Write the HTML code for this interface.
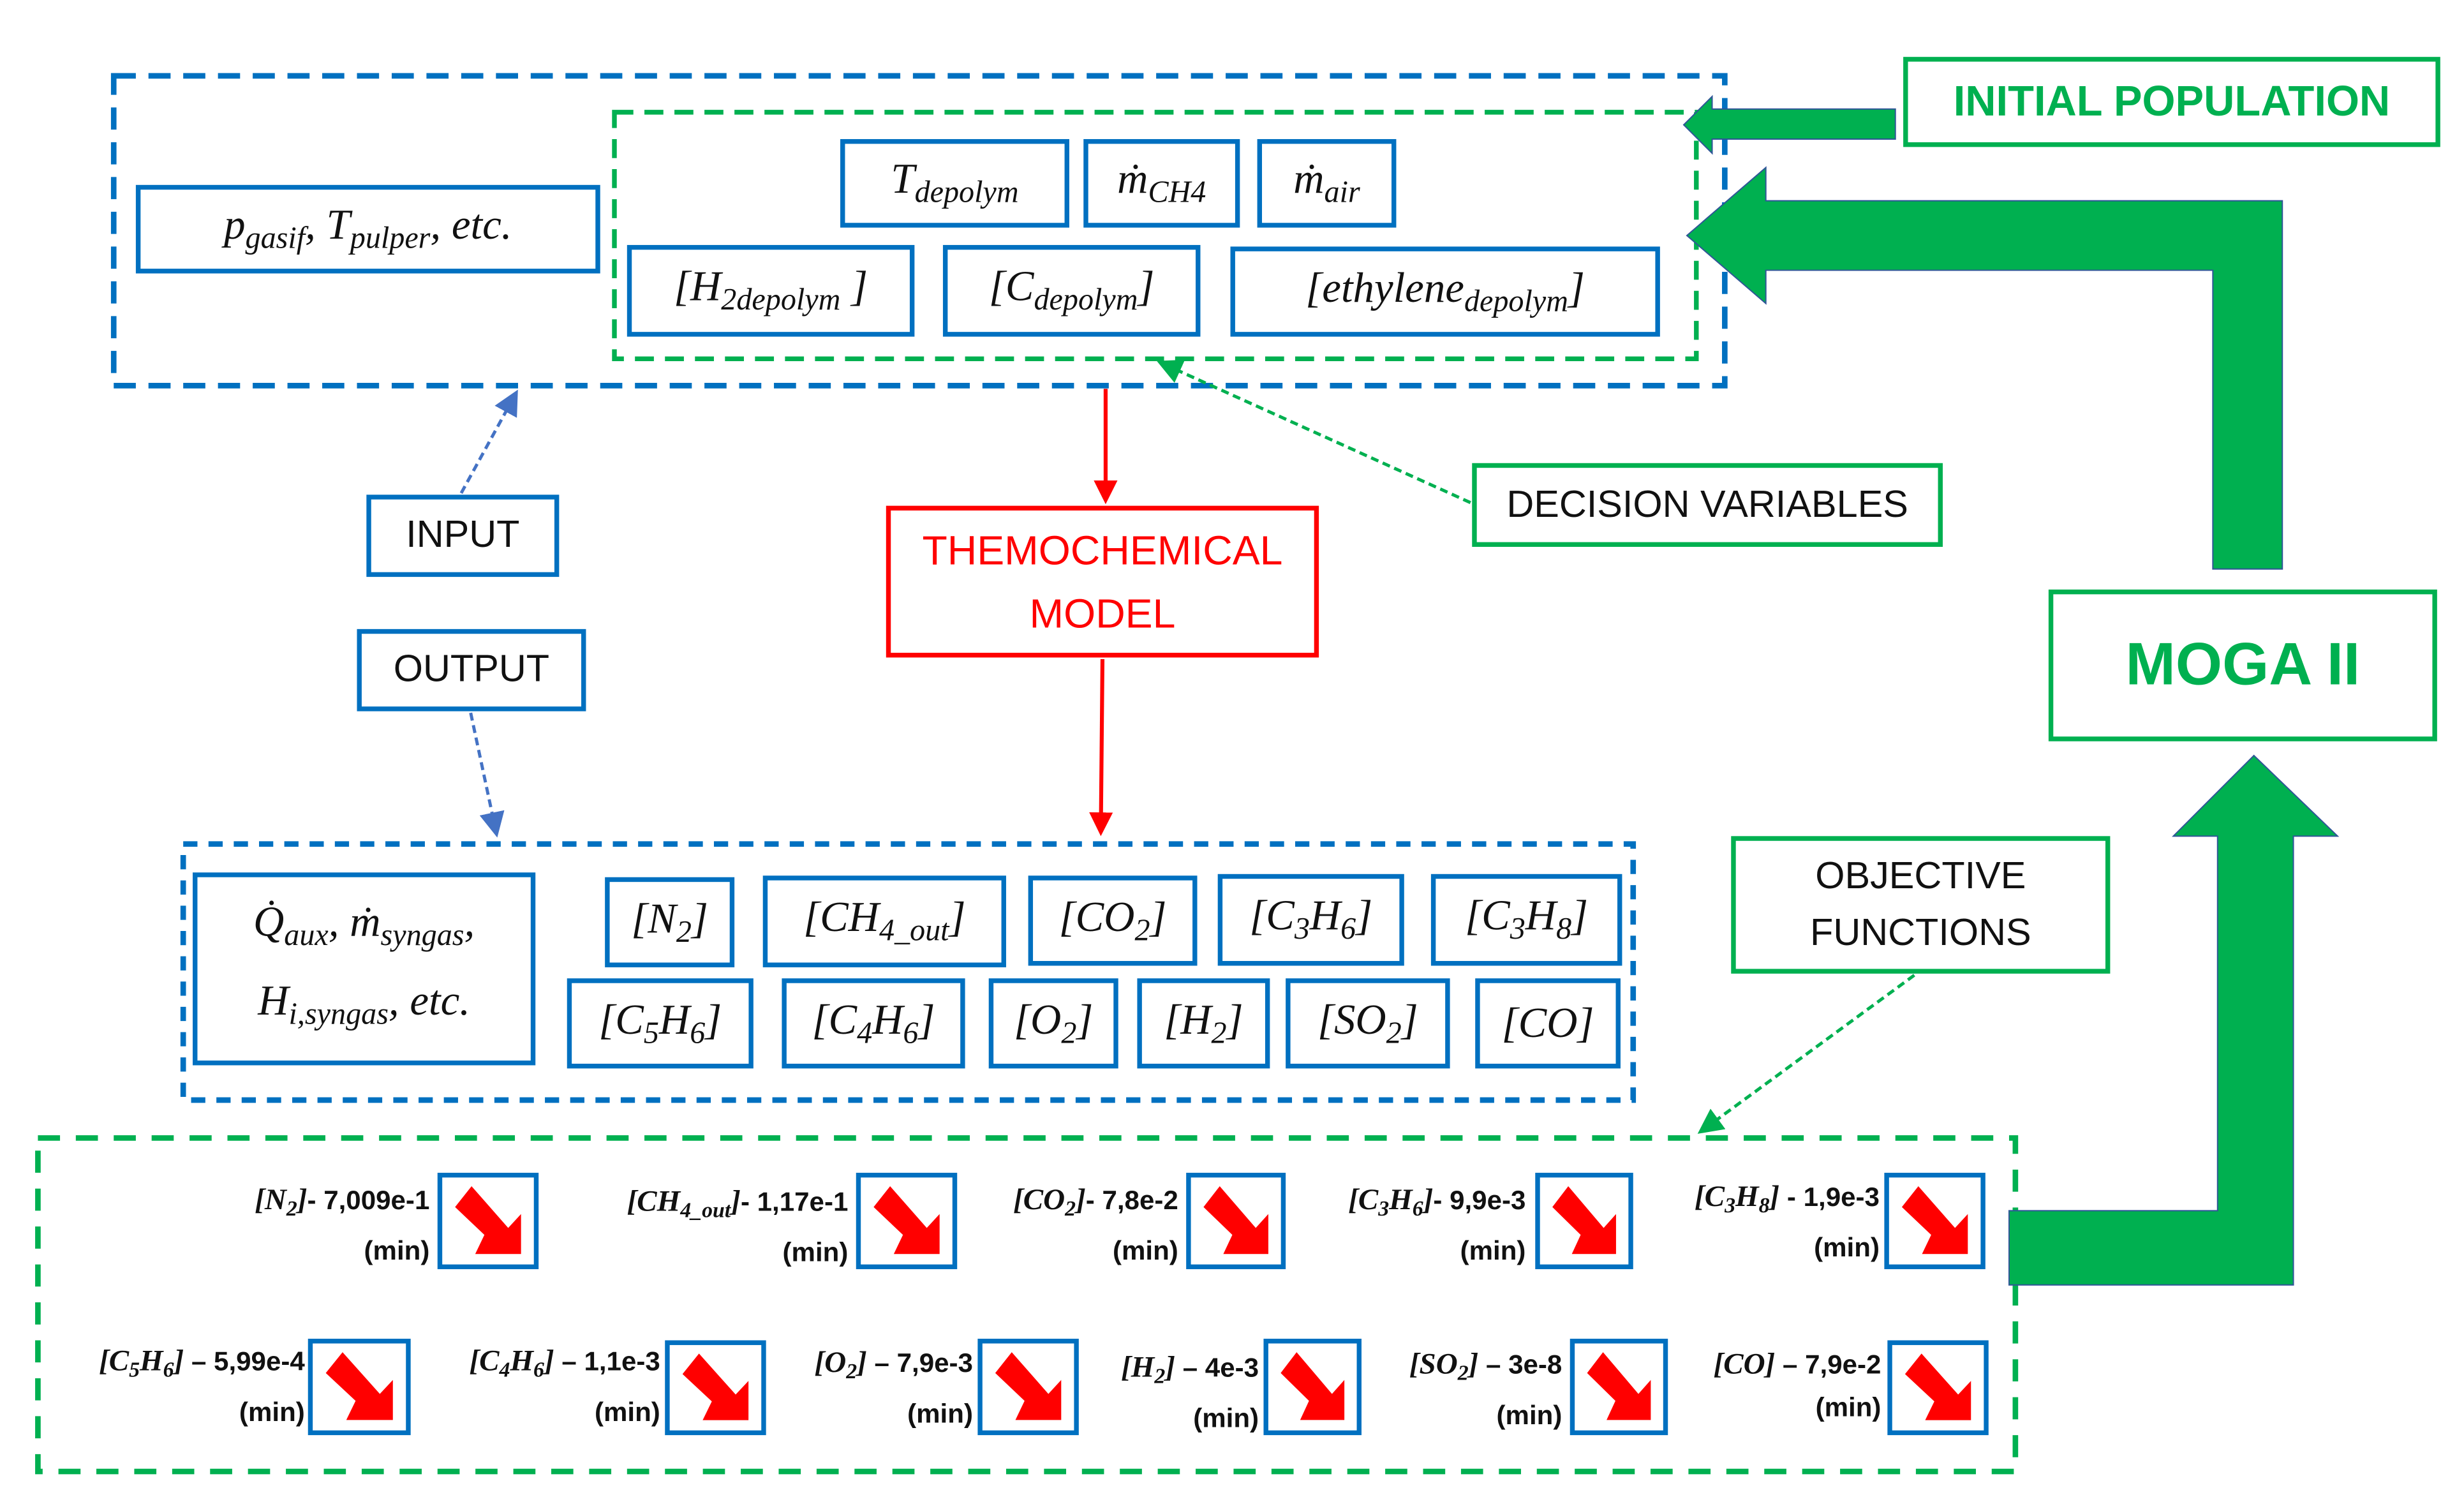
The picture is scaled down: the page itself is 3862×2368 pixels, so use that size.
<!DOCTYPE html>
<html><head><meta charset="utf-8">
<style>
html,body{margin:0;padding:0;background:#fff;}
body{width:3862px;height:2368px;overflow:hidden;position:relative;}
#d{position:absolute;left:0;top:0;width:1560px;height:956px;transform-origin:0 0;transform:scale(2.4756,2.4770);}
.b{position:absolute;box-sizing:border-box;border:3.5px solid #0070C0;background:#fff;display:flex;align-items:center;justify-content:center;font-family:"Liberation Serif",serif;font-style:italic;color:#111;white-space:nowrap;}
.g{position:absolute;box-sizing:border-box;border:3px solid #00B050;background:#fff;display:flex;align-items:center;justify-content:center;text-align:center;font-family:"Liberation Sans",sans-serif;color:#111;white-space:nowrap;}
sub{font-size:0.72em;vertical-align:-0.3em;}
.m{font-size:27px;}
.lab{position:absolute;text-align:right;font-family:"Liberation Sans",sans-serif;font-weight:bold;font-size:17px;line-height:27px;color:#111;white-space:nowrap;}
.lab i{font-family:"Liberation Serif",serif;font-size:19px;}
.ob{position:absolute;box-sizing:border-box;border:3.5px solid #0070C0;background:#fff;}
.ob svg{position:absolute;left:0;top:0;width:100%;height:100%;}
</style></head><body><div id="d">
<svg style="position:absolute;left:0;top:0" width="1560" height="956">
<defs>
<marker id="ab" markerWidth="8" markerHeight="8" refX="6" refY="4" orient="auto"><path d="M0,0 L8,4 L0,8 z" fill="#4472C4"/></marker>
<marker id="ag" markerWidth="8" markerHeight="8" refX="6" refY="4" orient="auto"><path d="M0,0 L8,4 L0,8 z" fill="#00B050"/></marker>
<marker id="ar" markerWidth="6" markerHeight="6" refX="4" refY="3" orient="auto"><path d="M0,0 L6,3 L0,6 z" fill="#FF0000"/></marker>
</defs>
<rect x="72" y="48" width="1020" height="196" fill="none" stroke="#0070C0" stroke-width="3.5" stroke-dasharray="14,8"/>
<rect x="389" y="71" width="685" height="156" fill="none" stroke="#00B050" stroke-width="3" stroke-dasharray="12,7"/>
<rect x="116" y="534" width="918" height="162" fill="none" stroke="#0070C0" stroke-width="3.5" stroke-dasharray="9,7"/>
<rect x="24" y="720" width="1252" height="211" fill="none" stroke="#00B050" stroke-width="3.5" stroke-dasharray="14,10"/>
<polygon points="1200,69 1084,69 1084,61 1066,79 1084,97 1084,88 1200,88" fill="#00B050" stroke="#2F5597" stroke-width="0.8"/>
<polygon points="1445,360 1445,127 1118,127 1118,106 1068,149 1118,192 1118,171 1401,171 1401,360" fill="#00B050" stroke="#2F5597" stroke-width="0.8"/>
<polygon points="1272,766 1404,766 1404,529 1376,529 1427,478 1480,529 1452,529 1452,813 1272,813" fill="#00B050" stroke="#2F5597" stroke-width="0.8"/>
<line x1="292" y1="312" x2="326" y2="250" stroke="#4472C4" stroke-width="2" stroke-dasharray="5,3" marker-end="url(#ab)"/>
<line x1="298" y1="451" x2="314" y2="526" stroke="#4472C4" stroke-width="2" stroke-dasharray="5,3" marker-end="url(#ab)"/>
<line x1="700" y1="246" x2="700" y2="314" stroke="#FF0000" stroke-width="2.5" marker-end="url(#ar)"/>
<line x1="698" y1="417" x2="697" y2="524" stroke="#FF0000" stroke-width="2.5" marker-end="url(#ar)"/>
<line x1="931" y1="318" x2="736" y2="230" stroke="#00B050" stroke-width="2" stroke-dasharray="5,3" marker-end="url(#ag)"/>
<line x1="1212" y1="617" x2="1078" y2="715" stroke="#00B050" stroke-width="2" stroke-dasharray="5,3" marker-end="url(#ag)"/>
</svg>

<div class="b m" style="left:86px;top:117px;width:294px;height:56px;"><span>p<sub>gasif</sub>, T<sub>pulper</sub>, etc.</span></div>
<div class="b m" style="left:532px;top:88px;width:145px;height:56px;"><span>T<sub>depolym</sub></span></div>
<div class="b m" style="left:686px;top:88px;width:99px;height:56px;"><span>ṁ<sub>CH4</sub></span></div>
<div class="b m" style="left:796px;top:88px;width:88px;height:56px;"><span>ṁ<sub>air</sub></span></div>
<div class="b m" style="left:397px;top:155px;width:182px;height:58px;"><span>[H<sub>2depolym</sub> ]</span></div>
<div class="b m" style="left:597px;top:155px;width:163px;height:58px;"><span>[C<sub>depolym</sub>]</span></div>
<div class="b m" style="left:779px;top:156px;width:272px;height:57px;"><span>[ethylene<sub>depolym</sub>]</span></div>

<div class="g" style="left:1205px;top:36px;width:340px;height:57px;color:#00B050;font-weight:bold;font-size:27px;">INITIAL POPULATION</div>
<div class="g" style="left:1297px;top:373px;width:246px;height:96px;color:#00B050;font-weight:bold;font-size:38px;">MOGA II</div>
<div class="g" style="left:932px;top:293px;width:298px;height:53px;font-size:24px;">DECISION VARIABLES</div>
<div class="g" style="left:1096px;top:529px;width:240px;height:87px;font-size:24px;line-height:36px;">OBJECTIVE<br>FUNCTIONS</div>
<div class="b" style="left:232px;top:313px;width:122px;height:52px;font-family:'Liberation Sans',sans-serif;font-style:normal;font-size:24px;border-width:3px;">INPUT</div>
<div class="b" style="left:226px;top:398px;width:145px;height:52px;font-family:'Liberation Sans',sans-serif;font-style:normal;font-size:24px;border-width:3px;">OUTPUT</div>
<div class="b" style="left:561px;top:320px;width:274px;height:96px;border-color:#FF0000;color:#FF0000;font-family:'Liberation Sans',sans-serif;font-style:normal;font-size:26px;line-height:40px;text-align:center;"><span>THEMOCHEMICAL<br>MODEL</span></div>

<div class="b m" style="left:122px;top:552px;width:217px;height:122px;flex-direction:column;line-height:40px;font-size:27px;"><div>Q̇<sub>aux</sub>, ṁ<sub>syngas</sub>,</div><div>H<sub>i,syngas</sub>, etc.</div></div>
<div class="b m" style="left:383px;top:555px;width:82px;height:57px;"><span>[N<sub>2</sub>]</span></div>
<div class="b m" style="left:483px;top:554px;width:154px;height:58px;"><span>[CH<sub>4_out</sub>]</span></div>
<div class="b m" style="left:651px;top:554px;width:107px;height:57px;"><span>[CO<sub>2</sub>]</span></div>
<div class="b m" style="left:771px;top:553px;width:118px;height:58px;"><span>[C<sub>3</sub>H<sub>6</sub>]</span></div>
<div class="b m" style="left:906px;top:553px;width:121px;height:58px;"><span>[C<sub>3</sub>H<sub>8</sub>]</span></div>
<div class="b m" style="left:359px;top:619px;width:118px;height:57px;"><span>[C<sub>5</sub>H<sub>6</sub>]</span></div>
<div class="b m" style="left:495px;top:619px;width:116px;height:57px;"><span>[C<sub>4</sub>H<sub>6</sub>]</span></div>
<div class="b m" style="left:626px;top:619px;width:82px;height:57px;"><span>[O<sub>2</sub>]</span></div>
<div class="b m" style="left:720px;top:619px;width:84px;height:57px;"><span>[H<sub>2</sub>]</span></div>
<div class="b m" style="left:814px;top:619px;width:104px;height:57px;"><span>[SO<sub>2</sub>]</span></div>
<div class="b m" style="left:934px;top:619px;width:92px;height:57px;"><span>[CO]</span></div>

<div class="lab" style="right:1288px;top:746px;"><i>[N<sub>2</sub>]</i>- 7,009e-1<br>(min)</div>
<div class="ob" style="left:277px;top:742px;width:64px;height:61px;"><svg viewBox="0 0 100 100" preserveAspectRatio="none"><polygon points="32,10 14,34 46,66 36,88 86,88 86,42 72,58" fill="#FF0000"/></svg></div>
<div class="lab" style="right:1023px;top:747px;"><i>[CH<sub>4_out</sub>]</i>- 1,17e-1<br>(min)</div>
<div class="ob" style="left:542px;top:742px;width:64px;height:61px;"><svg viewBox="0 0 100 100" preserveAspectRatio="none"><polygon points="32,10 14,34 46,66 36,88 86,88 86,42 72,58" fill="#FF0000"/></svg></div>
<div class="lab" style="right:814px;top:746px;"><i>[CO<sub>2</sub>]</i>- 7,8e-2<br>(min)</div>
<div class="ob" style="left:751px;top:742px;width:63px;height:61px;"><svg viewBox="0 0 100 100" preserveAspectRatio="none"><polygon points="32,10 14,34 46,66 36,88 86,88 86,42 72,58" fill="#FF0000"/></svg></div>
<div class="lab" style="right:594px;top:746px;"><i>[C<sub>3</sub>H<sub>6</sub>]</i>- 9,9e-3<br>(min)</div>
<div class="ob" style="left:972px;top:742px;width:62px;height:61px;"><svg viewBox="0 0 100 100" preserveAspectRatio="none"><polygon points="32,10 14,34 46,66 36,88 86,88 86,42 72,58" fill="#FF0000"/></svg></div>
<div class="lab" style="right:370px;top:744px;"><i>[C<sub>3</sub>H<sub>8</sub>]</i> - 1,9e-3<br>(min)</div>
<div class="ob" style="left:1193px;top:742px;width:64px;height:61px;"><svg viewBox="0 0 100 100" preserveAspectRatio="none"><polygon points="32,10 14,34 46,66 36,88 86,88 86,42 72,58" fill="#FF0000"/></svg></div>

<div class="lab" style="right:1367px;top:848px;"><i>[C<sub>5</sub>H<sub>6</sub>]</i> – 5,99e-4<br>(min)</div>
<div class="ob" style="left:195px;top:847px;width:65px;height:61px;"><svg viewBox="0 0 100 100" preserveAspectRatio="none"><polygon points="32,10 14,34 46,66 36,88 86,88 86,42 72,58" fill="#FF0000"/></svg></div>
<div class="lab" style="right:1142px;top:848px;"><i>[C<sub>4</sub>H<sub>6</sub>]</i> – 1,1e-3<br>(min)</div>
<div class="ob" style="left:421px;top:848px;width:64px;height:60px;"><svg viewBox="0 0 100 100" preserveAspectRatio="none"><polygon points="32,10 14,34 46,66 36,88 86,88 86,42 72,58" fill="#FF0000"/></svg></div>
<div class="lab" style="right:944px;top:849px;"><i>[O<sub>2</sub>]</i> – 7,9e-3<br>(min)</div>
<div class="ob" style="left:619px;top:847px;width:64px;height:61px;"><svg viewBox="0 0 100 100" preserveAspectRatio="none"><polygon points="32,10 14,34 46,66 36,88 86,88 86,42 72,58" fill="#FF0000"/></svg></div>
<div class="lab" style="right:763px;top:852px;"><i>[H<sub>2</sub>]</i> – 4e-3<br>(min)</div>
<div class="ob" style="left:800px;top:847px;width:62px;height:61px;"><svg viewBox="0 0 100 100" preserveAspectRatio="none"><polygon points="32,10 14,34 46,66 36,88 86,88 86,42 72,58" fill="#FF0000"/></svg></div>
<div class="lab" style="right:571px;top:850px;"><i>[SO<sub>2</sub>]</i> – 3e-8<br>(min)</div>
<div class="ob" style="left:994px;top:847px;width:62px;height:61px;"><svg viewBox="0 0 100 100" preserveAspectRatio="none"><polygon points="32,10 14,34 46,66 36,88 86,88 86,42 72,58" fill="#FF0000"/></svg></div>
<div class="lab" style="right:369px;top:850px;"><i>[CO]</i> – 7,9e-2<br>(min)</div>
<div class="ob" style="left:1195px;top:848px;width:64px;height:60px;"><svg viewBox="0 0 100 100" preserveAspectRatio="none"><polygon points="32,10 14,34 46,66 36,88 86,88 86,42 72,58" fill="#FF0000"/></svg></div>
</div></body></html>
